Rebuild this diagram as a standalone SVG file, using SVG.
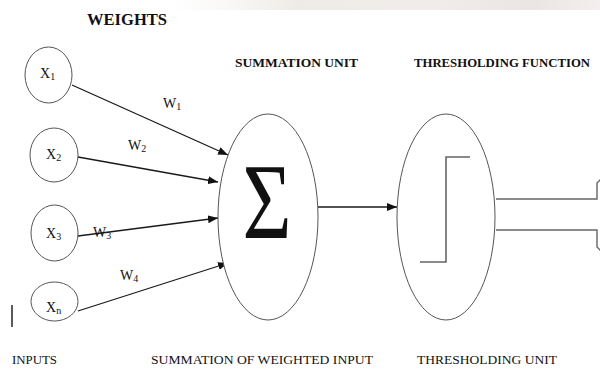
<svg xmlns="http://www.w3.org/2000/svg" width="600" height="370" viewBox="0 0 600 370">
<style>
text{font-family:"Liberation Serif","Times New Roman",serif;fill:#111}
.hdr{font-weight:bold;font-size:13.5px}
.lbl{font-size:13px}
.node{fill:#fff;stroke:#555;stroke-width:1}
.conn{stroke:#1a1a1a;stroke-width:1.3;fill:none}
.sub{font-size:10px}
.step{stroke:#666;stroke-width:1.6;fill:none}
.out{stroke:#666;stroke-width:1.4;fill:none}
</style>
<defs>
<marker id="ah" viewBox="0 0 10 8" refX="10" refY="4" markerWidth="10" markerHeight="8" markerUnits="userSpaceOnUse" orient="auto">
<path d="M0,0 L10,4 L0,8 z" fill="#111"/>
</marker>
<linearGradient id="wm" x1="0" y1="0" x2="1" y2="0">
<stop offset="0" stop-color="#f3f1ee" stop-opacity="0"/>
<stop offset="0.3" stop-color="#eeebe6"/>
<stop offset="0.6" stop-color="#f1ecea"/>
<stop offset="0.85" stop-color="#ebe6e3"/>
<stop offset="1" stop-color="#f4eeee"/>
</linearGradient>
</defs>
<rect width="600" height="370" fill="#fff"/>
<rect x="170" y="0" width="430" height="10" fill="url(#wm)"/>

<text class="hdr" x="87" y="25" textLength="80" lengthAdjust="spacingAndGlyphs" style="font-size:16px">WEIGHTS</text>
<text class="hdr" x="235" y="67" textLength="123" lengthAdjust="spacingAndGlyphs">SUMMATION UNIT</text>
<text class="hdr" x="414" y="67" textLength="176" lengthAdjust="spacingAndGlyphs">THRESHOLDING FUNCTION</text>

<g id="connectors">
<line class="conn" x1="72" y1="85" x2="228" y2="155" marker-end="url(#ah)"/>
<line class="conn" x1="78" y1="157" x2="218" y2="182" marker-end="url(#ah)"/>
<line class="conn" x1="78" y1="236" x2="218" y2="218" marker-end="url(#ah)"/>
<line class="conn" x1="78" y1="311" x2="228" y2="263" marker-end="url(#ah)"/>
<line class="conn" x1="318" y1="207" x2="397" y2="207" marker-end="url(#ah)"/>
<path class="out" d="M496,199 H597 V183 L602,178"/>
<path class="out" d="M496,230 H597 V247 L602,252"/>
</g>

<text class="lbl" x="163" y="108" style="font-size:14px">W<tspan class="sub" dy="2">1</tspan></text>
<text class="lbl" x="128" y="150" style="font-size:14px">W<tspan class="sub" dy="2">2</tspan></text>
<text class="lbl" x="93" y="237" style="font-size:14px">W<tspan class="sub" dy="2">3</tspan></text>
<text class="lbl" x="120" y="280" style="font-size:14px">W<tspan class="sub" dy="2">4</tspan></text>

<g id="x1">
<ellipse class="node" cx="48.5" cy="75" rx="23.5" ry="28"/>
<text x="40" y="78" style="font-size:14px">X<tspan class="sub" dy="2">1</tspan></text>
</g>
<g id="x2">
<ellipse class="node" cx="54" cy="155" rx="24" ry="27"/>
<text x="46" y="159" style="font-size:14px">X<tspan class="sub" dy="2">2</tspan></text>
</g>
<g id="x3">
<ellipse class="node" cx="54.5" cy="233" rx="23.5" ry="28"/>
<text x="46" y="238" style="font-size:14px">X<tspan class="sub" dy="2">3</tspan></text>
</g>
<g id="xn">
<ellipse class="node" cx="54.5" cy="301.5" rx="23.5" ry="19.5"/>
<text x="46" y="312" style="font-size:14px">X<tspan class="sub" dy="2">n</tspan></text>
</g>

<line x1="12" y1="305" x2="12" y2="327" stroke="#222" stroke-width="1.5"/>

<g id="summation">
<ellipse class="node" cx="268" cy="217" rx="50" ry="103"/>
<text transform="translate(267,238) scale(0.78,1)" text-anchor="middle" style="font-size:108px">Σ</text>
</g>

<g id="threshold">
<ellipse class="node" cx="446" cy="217" rx="49" ry="103"/>
<path class="step" d="M420,262 H446 V157 H470"/>
</g>

<text class="lbl" x="12" y="364" textLength="45" lengthAdjust="spacingAndGlyphs">INPUTS</text>
<text class="lbl" x="151" y="364" textLength="222" lengthAdjust="spacingAndGlyphs">SUMMATION OF WEIGHTED INPUT</text>
<text class="lbl" x="417" y="364" textLength="140" lengthAdjust="spacingAndGlyphs">THRESHOLDING UNIT</text>
</svg>
